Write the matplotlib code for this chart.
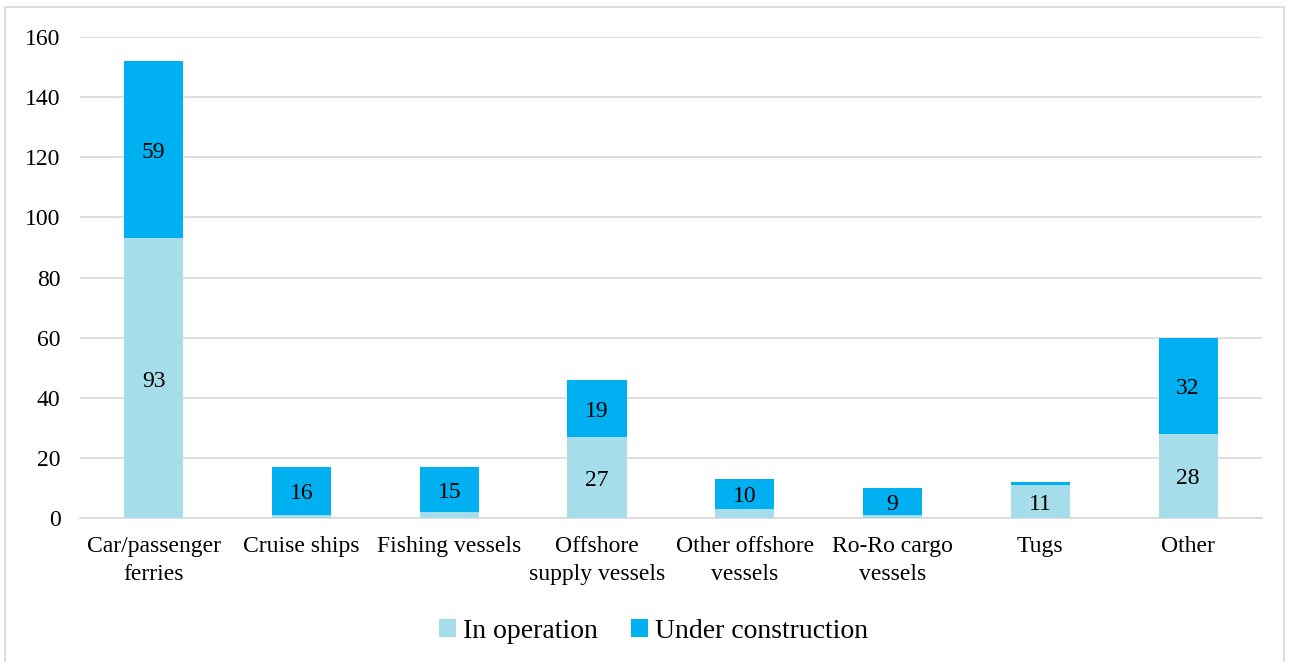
import matplotlib.pyplot as plt
import numpy as np
from matplotlib.patches import Rectangle

plt.rcParams['font.family'] = ['Liberation Serif', 'DejaVu Serif']

categories = ["Car/passenger\nferries", "Cruise ships", "Fishing vessels",
              "Offshore\nsupply vessels", "Other offshore\nvessels",
              "Ro-Ro cargo\nvessels", "Tugs", "Other"]
in_operation = [93, 1, 2, 27, 3, 1, 11, 28]
under_construction = [59, 16, 15, 19, 10, 9, 1, 32]

c_op = "#A5DEEA"
c_uc = "#00B0F0"

fig = plt.figure(figsize=(12.89, 6.62), dpi=100)
ax = fig.add_axes([0.062, 0.2175, 0.917, 0.7265])

x = np.arange(len(categories))
w = 0.4
ax.bar(x, in_operation, w, color=c_op, label="In operation", zorder=3)
ax.bar(x, under_construction, w, bottom=in_operation, color=c_uc,
       label="Under construction", zorder=3)

# labels only where the segment is big enough
for i in range(len(x)):
    if in_operation[i] >= 9:
        ax.text(x[i], in_operation[i] / 2 - 1, str(in_operation[i]),
                ha='center', va='center', fontsize=17, zorder=4)
    if under_construction[i] >= 9:
        ax.text(x[i], in_operation[i] + under_construction[i] / 2 - 1,
                str(under_construction[i]), ha='center', va='center',
                fontsize=17, zorder=4)

ax.set_xlim(-0.5, 7.5)
ax.set_ylim(0, 160)
ax.set_yticks(range(0, 161, 20))
ax.set_xticks(x)
ax.set_xticklabels(categories, linespacing=1.45)
ax.tick_params(length=0, labelsize=17)
ax.tick_params(axis='y', pad=14)
ax.tick_params(axis='x', pad=13)
ax.grid(axis='y', color='#d9d9d9', linewidth=1.2, zorder=0)
for s in ['top', 'right', 'left']:
    ax.spines[s].set_visible(False)
ax.spines['bottom'].set_color('#d9d9d9')
ax.spines['bottom'].set_linewidth(1.2)

fig.legend(loc='lower center', bbox_to_anchor=(0.507, -0.01), ncol=2,
           frameon=False, fontsize=20, handlelength=0.6, handleheight=0.6,
           handletextpad=0.25, columnspacing=1.2)

fig.patches.append(Rectangle((0.004, -0.01), 0.992, 0.999,
                             transform=fig.transFigure, fill=False,
                             edgecolor='#d9d9d9', linewidth=1.2))

fig.savefig("out.png", dpi=100)
